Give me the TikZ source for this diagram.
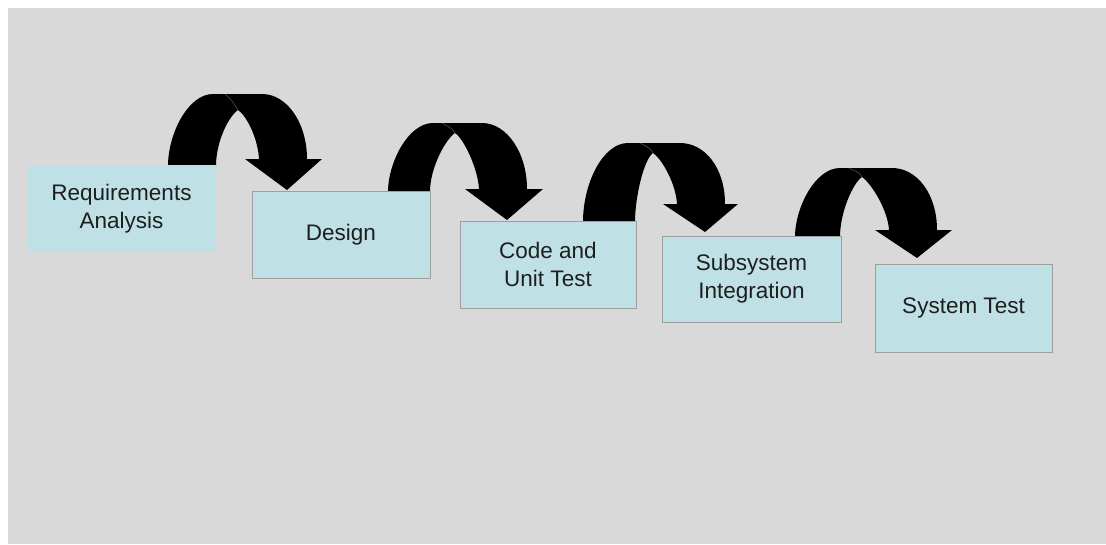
\documentclass[tikz,border=0pt]{standalone}
\usepackage{fontspec}
\setmainfont{Liberation Sans}
\definecolor{bg}{HTML}{D9D9D9}
\definecolor{boxfill}{HTML}{BFE1E6}
\definecolor{boxline}{HTML}{9E9E9E}
\definecolor{txt}{HTML}{1E1E1E}
\newcommand{\uarrow}[9]{%
% #1 x0, #2 y0, #3 xi, #4 ytop, #5 yhead, #6 xtip, #7 ytip, #8 xhl, #9 xhr ; peak in \pkx \pky
\fill[black] (#1,#2) .. controls (#1,{#4+40}) and ({#1+20},#4) .. ({#1+45},#4)
  -- ({#6-25},#4) .. controls ({#6},#4) and ({#6+20},{#5-36}) .. ({#6+20},#5)
  -- (#9,#5) -- (#6,#7) -- (#8,#5) -- ({#6-28},#5)
  .. controls ({#6-29},{#5-20}) and ({\pkx+9},{\pky+6}) .. (\pkx,\pky)
  .. controls ({\pkx-9},{\pky+6}) and (#3,{#2-25}) .. (#3,#2) -- cycle;
\draw[black!65,line width=0.5pt] (\pkx,\pky) .. controls ({\pkx-4},{\pky-7}) and ({\pkx-9},{#4+3}) .. ({\pkx-13},#4);
}
\tikzset{
  stage/.style={rectangle, fill=boxfill, draw=boxline, line width=1pt, text=txt,
    align=center, font=\fontsize{22.5}{28}\selectfont, inner sep=0pt}
}
\begin{document}
\begin{tikzpicture}[x=1pt,y=-1pt]
\useasboundingbox (0,0) rectangle (1106,544);
\fill[white] (0,0) rectangle (1106,544);
\fill[bg] (8,8) rectangle (1106,544);
% arrows
\def\pkx{238}\def\pky{110}
\uarrow{168}{166}{216}{94}{159}{287}{190}{245}{322}
\def\pkx{455}\def\pky{133}
\uarrow{388}{192}{430}{123}{189}{507}{220}{465}{543}
\def\pkx{653}\def\pky{153}
\uarrow{583}{222}{635}{143}{204}{705}{232}{663}{738}
\def\pkx{862}\def\pky{177}
\uarrow{795}{237}{840}{168}{230}{917}{258}{875}{952}
% boxes
\node[stage, draw=none, minimum width=189pt, minimum height=87pt] (req) at (121.5,208.5) {Requirements\\Analysis};
\node[stage, minimum width=178pt, minimum height=87pt] (des) at (341,234.5) {Design};
\node[stage, minimum width=176pt, minimum height=87pt] (code) at (548,264.5) {Code and\\Unit Test};
\node[stage, minimum width=179pt, minimum height=86pt] (sub) at (751.5,279) {Subsystem\\Integration};
\node[stage, minimum width=177pt, minimum height=88pt] (sys) at (963.5,308) {System Test};
\end{tikzpicture}
\end{document}
